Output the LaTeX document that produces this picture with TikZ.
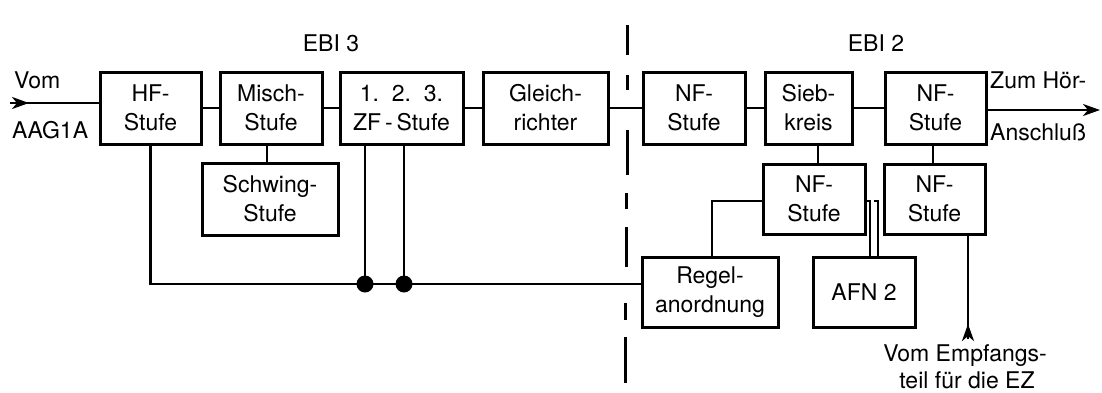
\documentclass[tikz,border=0pt]{standalone}
\usepackage{fontspec}
\setmainfont{TeX Gyre Heros}
\usetikzlibrary{arrows.meta,calc}
\begin{document}
\begin{tikzpicture}[x=1pt,y=-1pt,
  blk/.style={draw,line width=3pt,inner sep=0pt,align=center,font=\fontsize{23}{29}\selectfont},
  wire/.style={line width=2.6pt},
  lbl/.style={font=\fontsize{23}{28}\selectfont,inner sep=0pt},
  tip/.style={line width=2.6pt,-{Stealth[length=17pt,width=12pt,inset=5pt]}},
  sep/.style={line width=3pt}]
\useasboundingbox (0,0) rectangle (1102,392);
% top row
\node[blk,minimum width=101pt,minimum height=72pt] (hf) at (150.5,108) {HF-\\Stufe};
\node[blk,minimum width=102pt,minimum height=72pt] (misch) at (271,108) {Misch-\\Stufe};
\node[blk,minimum width=123pt,minimum height=72pt] (zf) at (401.5,108) {1.~~2.~~3.\\ZF\,-\,Stufe};
\node[blk,minimum width=125pt,minimum height=72pt] (gl) at (545.5,108) {Gleich-\\richter};
\node[blk,minimum width=102pt,minimum height=72pt] (nf1) at (694,108) {NF-\\Stufe};
\node[blk,minimum width=87pt,minimum height=72pt] (sieb) at (808.5,108) {Sieb-\\kreis};
\node[blk,minimum width=101pt,minimum height=72pt] (nf3) at (935.5,108) {NF-\\Stufe};
% second row
\node[blk,minimum width=136pt,minimum height=72pt] (sch) at (270,199) {Schwing-\\Stufe};
\node[blk,minimum width=102pt,minimum height=70pt] (nfm) at (814,199) {NF-\\Stufe};
\node[blk,minimum width=101pt,minimum height=70pt] (nfr) at (934.5,199) {NF-\\Stufe};
% third row
\node[blk,minimum width=136pt,minimum height=70pt] (reg) at (710,292) {Regel-\\anordnung};
\node[blk,minimum width=102pt,minimum height=70pt] (afn) at (864,292) {AFN 2};
% labels
\node[lbl,anchor=base west] (lvom) at (14,88) {Vom};
\node[lbl,anchor=base west] (laag) at (12,138) {AAG1A};
\node[lbl,anchor=base west] (lzum) at (990,88) {Zum Hör-};
\node[lbl,anchor=base west] (lans) at (990,140) {Anschluß};
\node[lbl,anchor=base] (lebi3) at (331,51) {EBI 3};
\node[lbl,anchor=base] (lebi2) at (876,51) {EBI 2};
\node[lbl,anchor=base] (lemp) at (965,361) {Vom Empfangs-};
\node[lbl,anchor=base] (lteil) at (967,388) {teil für die EZ};
% coordinates
\coordinate (inA) at (10,103);
\coordinate (outA) at (1100,110);
\coordinate (emp) at (968,339);
\coordinate (bl) at (150.5,284);
\coordinate (j1) at (365,284);
\coordinate (j2) at (404,284);
\coordinate (k1) at (267,0);
\coordinate (k2) at (818,0);
\coordinate (k3) at (933,0);
\coordinate (r1) at (712,201);
\coordinate (d1) at (870,201);
\coordinate (d2) at (878,201);
% horizontal chain
\draw[wire] (hf) -- (misch);
\draw[wire] (misch) -- (zf);
\draw[wire] (zf) -- (gl);
\draw[wire] (gl) -- (nf1);
\draw[wire] (nf1) -- (sieb);
\draw[wire] (sieb) -- (nf3);
% input / output
\draw[wire] (inA) -- (hf.west |- inA);
\draw[tip] (inA) -- ++(19,0);
\draw[tip] (nf3.east |- outA) -- (outA);
% verticals
\draw[wire] (misch.south -| k1) -- (sch.north -| k1);
\draw[wire] (sieb.south -| k2) -- (nfm.north -| k2);
\draw[wire] (nf3.south -| k3) -- (nfr.north -| k3);
% bus
\draw[wire] (hf.south) -- (bl) -- (reg.west |- bl);
\draw[wire] (zf.south -| j1) -- (j1);
\draw[wire] (zf.south -| j2) -- (j2);
\fill (j1) circle (8.5);
\fill (j2) circle (8.5);
% Regel to NF
\draw[wire] (reg.north -| r1) -- (r1) -- (nfm.west |- r1);
% double line to AFN
\draw[line width=2.2pt] ($(d1)+(-4,0)$) -- (d1) -- (afn.north -| d1);
\draw[line width=2.2pt] ($(d2)+(-4,0)$) -- (d2) -- (afn.north -| d2);
% from Empfangsteil
\draw[wire] (nfr.south -| emp) -- (emp);
\draw[tip] (emp) -- ++(0,-15);
% separating dash-dot line
\draw[sep] (627,25) -- (627,55);
\draw[sep] (627,75) -- (627,90);
\draw[sep] (627,130) -- (627,175);
\draw[sep] (626,193) -- (626,209);
\draw[sep] (626,227) -- (626,267);
\draw[sep] (625,303) -- (625,320);
\draw[sep] (625,337) -- (625,383);
\end{tikzpicture}
\end{document}
